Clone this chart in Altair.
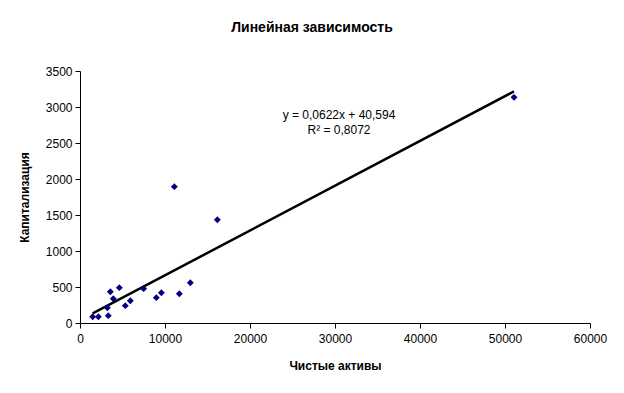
import altair as alt
import pandas as pd

# Data
assets = [1490, 2160, 3220, 3330, 3570, 3920, 4630, 5330, 5920, 7490,
          8980, 9570, 11100, 11690, 12980, 16160, 51060]
capital = [88, 88, 213, 102, 435, 338, 491, 241, 310, 477,
           352, 421, 1894, 407, 560, 1435, 3134]

slope = 0.0622
intercept = 40.594
eq_lines = ["y = 0,0622x + 40,594", "R² = 0,8072"]

pts = pd.DataFrame({"x": assets, "y": capital})
xs = [min(assets), max(assets)]
trend = pd.DataFrame({"x": xs, "y": [slope * v + intercept for v in xs]})

FONT = "Liberation Sans"

xscale = alt.Scale(domain=[0, 60000], nice=False, zero=True)
yscale = alt.Scale(domain=[0, 3500], nice=False, zero=True)

xaxis = alt.Axis(title="Чистые активы", values=list(range(0, 60001, 10000)),
                 format="d", grid=False, tickSize=5, labelPadding=5,
                 titlePadding=16, labelFlush=False)
yaxis = alt.Axis(title="Капитализация", values=list(range(0, 3501, 500)),
                 format="d", grid=False, tickSize=5, labelPadding=3,
                 titlePadding=14)

points = alt.Chart(pts).mark_point(shape="diamond", filled=True, color="#000080",
                                   size=48, opacity=1).encode(
    x=alt.X("x:Q", scale=xscale, axis=xaxis),
    y=alt.Y("y:Q", scale=yscale, axis=yaxis),
)

line = alt.Chart(trend).mark_line(color="black", strokeWidth=2.5).encode(
    x=alt.X("x:Q", scale=xscale, axis=xaxis),
    y=alt.Y("y:Q", scale=yscale, axis=yaxis),
)

def eq_text(s, ypix):
    return alt.Chart(pd.DataFrame({"t": [s]})).mark_text(
        font=FONT, fontSize=12, color="black", align="center", baseline="middle"
    ).encode(x=alt.value(259), y=alt.value(ypix), text="t:N")

chart = alt.layer(line, points, eq_text(eq_lines[0], 44),
                  eq_text(eq_lines[1], 59)).properties(
    width=510, height=252,
    title=alt.TitleParams("Линейная зависимость", font=FONT, fontSize=14,
                          fontWeight="bold", anchor="middle", dx=-23, offset=30),
    autosize=alt.AutoSizeParams(type="none"),
    padding={"left": 72, "top": 63, "right": 26, "bottom": 62},
    background="white",
).configure_view(stroke=None).configure_axis(
    grid=False,
    domainColor="black", tickColor="black", labelColor="black", titleColor="black",
    labelFont=FONT, titleFont=FONT, labelFontSize=12, titleFontSize=12,
    titleFontWeight="bold", domainWidth=1, tickWidth=1,
)

chart.save("out.html", embed_options={"renderer": "svg", "actions": False})
